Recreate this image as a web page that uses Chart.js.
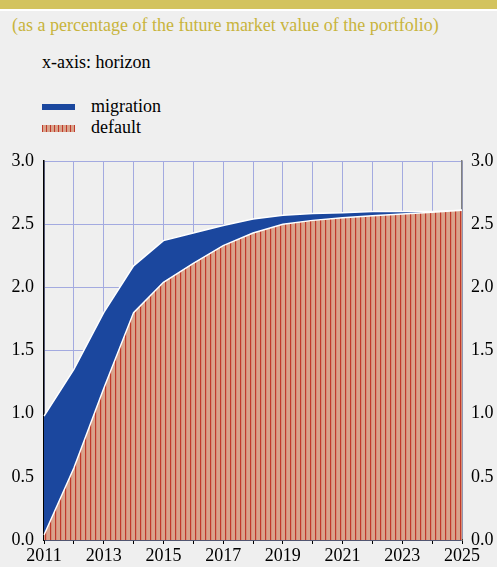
<!DOCTYPE html>
<html>
<head>
<meta charset="utf-8">
<script src="https://cdn.jsdelivr.net/npm/chart.js@4"></script>
<style>
  html, body { margin: 0; padding: 0; background: #efefef; }
  body { width: 497px; height: 567px; position: relative; overflow: hidden; font-family: "Liberation Serif", serif; }
  .topbar { position: absolute; left: 0; top: 0; width: 497px; height: 9px; background: #d3c35e; }
  .topline { position: absolute; left: 0; top: 9px; width: 497px; height: 2px; background: #ffffff; }
  .txt { position: absolute; font-size: 18px; line-height: 20px; white-space: nowrap; }
  .title { left: 12px; top: 15px; color: #c8b43c; }
  .xnote { left: 42px; top: 52px; color: #000; }
  .sw { position: absolute; left: 42px; width: 33px; }
  #chartWrap { position: absolute; left: 0; top: 0; width: 497px; height: 567px; }
</style>
</head>
<body>
<div class="topbar"></div>
<div class="topline"></div>
<div class="txt title">(as a percentage of the future market value of the portfolio)</div>
<div class="txt xnote">x-axis: horizon</div>
<div class="sw" style="top:104px;height:6px;background:#1b479e;"></div>
<div class="txt" style="left:91px;top:96px;">migration</div>
<div class="sw" style="top:125px;height:7px;background:repeating-linear-gradient(90deg,#c0392b 0 1px,#d9a38b 1px 4px);"></div>
<div class="txt" style="left:91px;top:117px;">default</div>
<div id="chartWrap"><canvas id="chart" width="497" height="567"></canvas></div>

<script>
// Horizon years and loss components
const years = ['2011', '2012', '2013', '2014', '2015', '2016', '2017', '2018',
               '2019', '2020', '2021', '2022', '2023', '2024', '2025'];
const defaultLoss = [0.04, 0.57, 1.20, 1.80, 2.04, 2.19, 2.33, 2.43, 2.50, 2.53, 2.55, 2.566, 2.58, 2.595, 2.61];
const migrationLoss = [0.94, 0.78, 0.60, 0.37, 0.33, 0.24, 0.16, 0.11, 0.07, 0.055, 0.04, 0.034, 0.02, 0.005, 0];
const yTicks = [0, 0.5, 1.0, 1.5, 2.0, 2.5, 3.0];

const FONT = { family: 'Liberation Serif', size: 18 };
const GRID_COLOR = '#a3aae0';

function makeHatch() {
    const c = document.createElement('canvas');
    c.width = 5;
    c.height = 10;
    const g = c.getContext('2d');
    g.fillStyle = '#d9a38b';
    g.fillRect(0, 0, 5, 10);
    g.fillStyle = '#c0392b';
    g.fillRect(0, 0, 1.2, 10);
    return g.createPattern(c, 'repeat');
}

const ctx = document.getElementById('chart').getContext('2d');
const hatch = makeHatch();

new Chart(ctx, {
    type: 'line',
    data: {
        labels: years,
        datasets: [{
            label: 'default',
            data: defaultLoss,
            backgroundColor: hatch,
            borderColor: '#ffffff',
            borderWidth: 1.5,
            fill: 'origin',
            tension: 0,
            pointRadius: 0
        }, {
            label: 'migration',
            data: migrationLoss,
            backgroundColor: '#1b479e',
            borderColor: '#ffffff',
            borderWidth: 1.5,
            fill: '-1',
            tension: 0,
            pointRadius: 0
        }]
    },
    options: {
        responsive: false,
        animation: false,
        layout: { padding: { top: 161, left: 0, right: 0, bottom: 0 } },
        plugins: {
            legend: { display: false },
            tooltip: { enabled: false }
        },
        scales: {
            x: {
                offset: false,
                grid: { color: GRID_COLOR, tickColor: '#000', tickLength: 4, drawTicks: true },
                border: { color: '#000', width: 1.5 },
                ticks: {
                    autoSkip: false,
                    maxRotation: 0,
                    color: '#000',
                    font: FONT,
                    padding: 1,
                    callback: function (value, index) {
                        return index % 2 === 0 ? this.getLabelForValue(value) : '';
                    }
                },
                afterFit: s => { s.height = 27; }
            },
            y: {
                stacked: true,
                position: 'left',
                min: 0,
                max: 3,
                afterBuildTicks: s => { s.ticks = yTicks.map(v => ({ value: v })); },
                grid: { color: GRID_COLOR, drawTicks: false },
                border: { color: '#000', width: 1.5 },
                ticks: { color: '#000', font: FONT, padding: 10, callback: v => v.toFixed(1) },
                afterFit: s => { s.width = 44; }
            },
            y2: {
                position: 'right',
                min: 0,
                max: 3,
                afterBuildTicks: s => { s.ticks = yTicks.map(v => ({ value: v })); },
                grid: { display: false, drawTicks: false },
                border: { color: '#808080', width: 1.5 },
                ticks: { color: '#000', font: FONT, padding: 9, callback: v => v.toFixed(1) },
                afterFit: s => { s.width = 35; }
            }
        }
    }
});
</script>
</body>
</html>
